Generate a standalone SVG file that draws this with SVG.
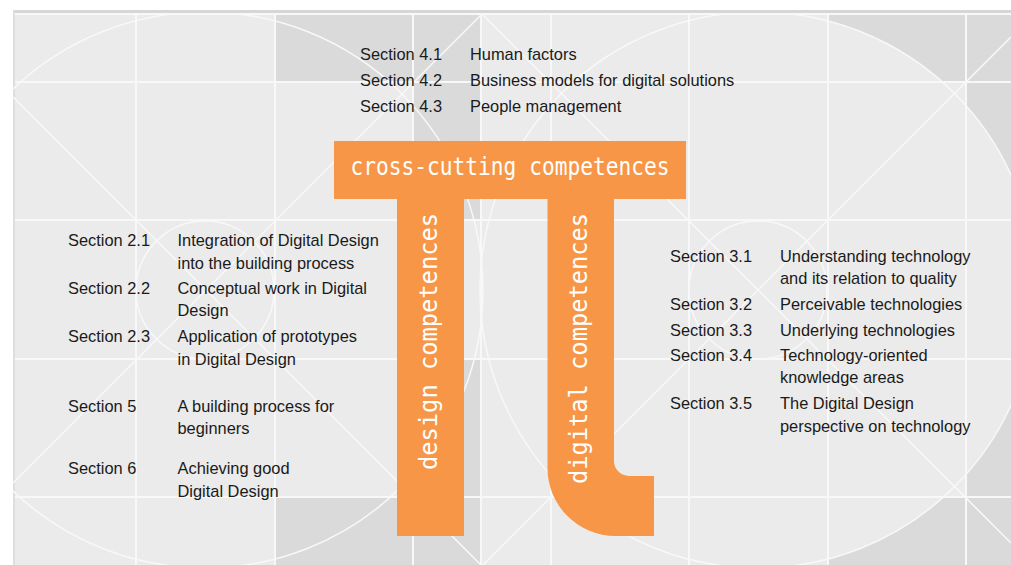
<svg xmlns="http://www.w3.org/2000/svg" width="1011" height="565" viewBox="0 0 1011 565">
<defs>
<style>
.dk{fill:#dadada}
.gl{stroke:#f8f8f8;stroke-width:2;fill:none}
.arc{stroke:#f8f8f8;stroke-width:1.5;fill:none}
.pi{fill:#F79646}
.pt{font-family:"DejaVu Sans Mono","Liberation Mono",monospace;fill:#ffffff}
.t{font-family:"Liberation Sans",Arial,sans-serif;font-size:16.4px;fill:#1a1a1a}
</style>
<clipPath id="frame"><rect x="13" y="13" width="998" height="552"/></clipPath>
<mask id="outR"><rect x="0" y="0" width="1011" height="565" fill="#ffffff"/><circle cx="758" cy="290" r="278" fill="#000000"/></mask>
</defs>
<g id="background">
<rect x="0" y="0" width="1011" height="565" fill="#ffffff"/>
<rect x="13" y="10" width="998" height="555" fill="#ebebeb"/>
<rect x="13" y="10" width="998" height="3" fill="#d6d6d6"/>
<rect x="13" y="10" width="2" height="555" fill="#dedede"/>
<path class="dk" d="M275 13H481V220H413V82H275Z"/>
<path class="dk" d="M413 359H481V565H275V497H413Z"/>
<g mask="url(#outR)">
<path class="dk" d="M828 13H1011V220H966V82H828Z"/>
<path class="dk" d="M966 359H1011V565H828V497H966Z"/>
</g>
<g clip-path="url(#frame)">
<path class="gl" d="M15 14H1011M15 82H1011M15 220H1011M15 359H1011M15 497H1011"/>
<path class="gl" d="M136 13V565M275 13V565M413 13V565M481 13V565M551 13V565M689 13V565M828 13V565M966 13V565"/>
<circle class="arc" cx="205" cy="290" r="278"/>
<circle class="arc" cx="758" cy="290" r="278"/>
<circle class="arc" cx="205" cy="290" r="69"/>
<circle class="arc" cx="758" cy="290" r="69"/>
<path class="arc" d="M13 97L481 565M13 483L481 15M481 13L1011 543M481 567L1011 37"/>
</g>
</g>
<g id="connectors"></g>
<g id="pi-crosscutting">
<rect class="pi" x="334" y="141" width="352" height="58"/>
<text class="pt" x="510" y="175" font-size="24" text-anchor="middle" textLength="319" lengthAdjust="spacingAndGlyphs">cross-cutting competences</text>
</g>
<g id="pi-design">
<rect class="pi" x="397" y="198" width="67" height="338"/>
<text class="pt" transform="translate(437 341.5) rotate(-90)" x="0" y="0" font-size="25" text-anchor="middle" textLength="257" lengthAdjust="spacingAndGlyphs">design competences</text>
</g>
<g id="pi-digital">
<path class="pi" d="M547.5 198H614V461A15 15 0 0 0 629 476H654V536H615.5A68 68 0 0 1 547.5 468Z"/>
<text class="pt" transform="translate(587 348.5) rotate(-90)" x="0" y="0" font-size="25" text-anchor="middle" textLength="271" lengthAdjust="spacingAndGlyphs">digital competences</text>
</g>
<g id="sections-4">
<text class="t" x="360" y="60">Section 4.1</text><text class="t" x="470" y="60">Human factors</text>
<text class="t" x="360" y="86">Section 4.2</text><text class="t" x="470" y="86">Business models for digital solutions</text>
<text class="t" x="360" y="112">Section 4.3</text><text class="t" x="470" y="112">People management</text>
</g>
<g id="sections-2">
<text class="t" x="68" y="246">Section 2.1</text><text class="t" x="177.5" y="246">Integration of Digital Design</text><text class="t" x="177.5" y="268.5">into the building process</text>
<text class="t" x="68" y="294">Section 2.2</text><text class="t" x="177.5" y="294">Conceptual work in Digital</text><text class="t" x="177.5" y="316">Design</text>
<text class="t" x="68" y="342">Section 2.3</text><text class="t" x="177.5" y="342">Application of prototypes</text><text class="t" x="177.5" y="364.5">in Digital Design</text>
<text class="t" x="68" y="411.5">Section 5</text><text class="t" x="177.5" y="411.5">A building process for</text><text class="t" x="177.5" y="434">beginners</text>
<text class="t" x="68" y="474">Section 6</text><text class="t" x="177.5" y="474">Achieving good</text><text class="t" x="177.5" y="496.5">Digital Design</text>
</g>
<g id="sections-3">
<text class="t" x="670" y="261.5">Section 3.1</text><text class="t" x="780" y="261.5">Understanding technology</text><text class="t" x="780" y="284">and its relation to quality</text>
<text class="t" x="670" y="309.5">Section 3.2</text><text class="t" x="780" y="309.5">Perceivable technologies</text>
<text class="t" x="670" y="335.5">Section 3.3</text><text class="t" x="780" y="335.5">Underlying technologies</text>
<text class="t" x="670" y="361">Section 3.4</text><text class="t" x="780" y="361">Technology-oriented</text><text class="t" x="780" y="383">knowledge areas</text>
<text class="t" x="670" y="409">Section 3.5</text><text class="t" x="780" y="409">The Digital Design</text><text class="t" x="780" y="431.5">perspective on technology</text>
</g>
</svg>
